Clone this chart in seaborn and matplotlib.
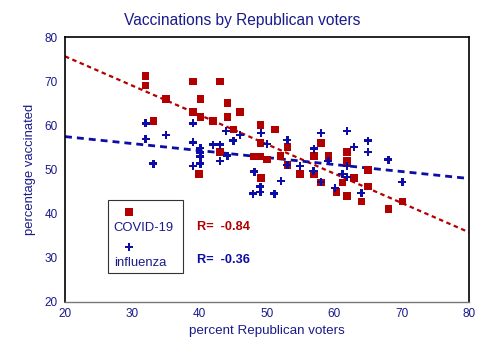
import numpy as np
import pandas as pd
import matplotlib
matplotlib.use('Agg')
import matplotlib.pyplot as plt
import seaborn as sns
from matplotlib.patches import Rectangle

sns.set_style('white')
plt.rcParams['font.family'] = ['Liberation Sans', 'DejaVu Sans']

NAVY = '#1a1a8a'
RED = '#b20000'
BLUE = '#0c0ca6'

# podaci ocitani sa slike
covid_gop = [32.0, 32.0, 39.0, 43.0, 35.0, 40.1, 44.1, 39.0, 40.1, 44.1, 46.0,
             33.1, 42.0, 45.0, 49.0, 51.2, 49.0, 43.0, 48.0, 49.0, 50.0, 52.0,
             53.0, 58.0, 57.0, 59.1, 61.9, 61.9, 49.1, 53.0, 54.9, 57.0, 58.0,
             61.2, 62.9, 65.0, 65.0, 60.3, 61.9, 64.0, 68.0, 70.1, 39.9]
covid_vax = [71.2, 69.1, 70.0, 70.0, 66.0, 66.0, 65.1, 63.0, 61.9, 61.9, 63.0,
             61.0, 61.0, 59.0, 60.1, 59.0, 56.0, 54.0, 52.9, 52.9, 52.2, 53.1,
             55.1, 56.0, 53.1, 53.1, 54.0, 51.9, 48.1, 51.0, 49.0, 49.0, 47.0,
             47.0, 48.1, 49.9, 46.1, 44.9, 44.0, 42.7, 41.1, 42.7, 49.0]

flu_gop = [32.0, 32.0, 35.0, 39.0, 39.0, 40.1, 40.1, 40.1, 42.0, 43.0, 43.0,
           43.9, 45.0, 46.0, 49.1, 50.0, 44.1, 33.1, 39.0, 40.1, 48.1, 49.0,
           49.0, 47.9, 53.0, 58.0, 61.9, 57.0, 59.1, 62.9, 65.0, 65.0, 52.1,
           53.0, 54.9, 56.9, 61.9, 61.2, 61.9, 58.0, 60.1, 64.0, 70.1, 68.0, 51.1]
flu_vax = [60.5, 56.9, 57.8, 60.5, 56.2, 54.9, 53.8, 52.9, 55.6, 55.6, 51.9,
           58.7, 56.5, 57.8, 58.3, 55.8, 53.1, 51.3, 50.8, 51.3, 49.5, 46.1,
           44.9, 44.5, 56.7, 58.3, 58.7, 54.7, 51.9, 55.1, 56.5, 54.0, 47.4,
           51.0, 50.8, 49.7, 50.8, 49.0, 48.3, 47.2, 45.8, 44.7, 47.2, 52.2, 44.5]

r_labels = ['R=  -0.84', 'R=  -0.36']

covid_df = pd.DataFrame({'gop': covid_gop, 'vax': covid_vax})
flu_df = pd.DataFrame({'gop': flu_gop, 'vax': flu_vax})

fig = plt.figure(figsize=(5, 3.53), dpi=100)
ax = fig.add_axes([0.13, 0.1445, 0.808, 0.7505])
ax.set_xlim(20, 80)
ax.set_ylim(20, 80)

sns.regplot(data=covid_df, x='gop', y='vax', ax=ax, scatter=False, ci=None,
            truncate=False, color=RED,
            line_kws={'linestyle': (0, (2.0, 1.6)), 'linewidth': 1.6})
sns.regplot(data=flu_df, x='gop', y='vax', ax=ax, scatter=False, ci=None,
            truncate=False, color=BLUE,
            line_kws={'linestyle': (0, (2.5, 1.8)), 'linewidth': 2.0})

sns.scatterplot(data=covid_df, x='gop', y='vax', ax=ax, marker='s', s=28,
                color=RED, edgecolor='none', zorder=3)
sns.scatterplot(data=flu_df, x='gop', y='vax', ax=ax, marker='P', s=34,
                color=BLUE, edgecolor='none', zorder=4)

ax.set_xlim(20, 80)
ax.set_ylim(20, 80)
ax.set_xticks(range(20, 81, 10))
ax.set_yticks(range(20, 81, 10))

ax.set_xlabel('percent Republican voters', color=NAVY, fontsize=9.6, labelpad=4)
ax.set_ylabel('percentage vaccinated', color=NAVY, fontsize=9.4, labelpad=6)
fig.text(0.484, 0.943, 'Vaccinations by Republican voters', color=NAVY,
         fontsize=11.2, ha='center', va='center')

for side in ['left', 'top', 'right']:
    ax.spines[side].set_color('black')
    ax.spines[side].set_linewidth(1.2)
ax.spines['bottom'].set_color('#777777')
ax.spines['bottom'].set_linewidth(1.0)
ax.tick_params(axis='y', direction='out', length=4, width=0.8, color='black',
               labelcolor=NAVY, labelsize=8.5, pad=1)
ax.tick_params(axis='x', direction='out', length=4, width=0.8, color='#777777',
               labelcolor=NAVY, labelsize=8.5, pad=0)

# legenda: marker iznad teksta
ax.add_patch(Rectangle((0.106, 0.109), 0.186, 0.276, transform=ax.transAxes,
                       facecolor='white', edgecolor='#333333', linewidth=0.8,
                       zorder=5))
ax.scatter([0.158], [0.34], marker='s', s=28, color=RED, transform=ax.transAxes,
           zorder=6, edgecolor='none')
ax.text(0.119, 0.279, 'COVID-19', transform=ax.transAxes, color=NAVY,
        fontsize=9.4, va='center', zorder=6)
ax.scatter([0.158], [0.208], marker='P', s=30, color=BLUE, transform=ax.transAxes,
           zorder=6, edgecolor='none')
ax.text(0.122, 0.147, 'influenza', transform=ax.transAxes, color=NAVY,
        fontsize=9.4, va='center', zorder=6)

ax.text(0.327, 0.283, r_labels[0], transform=ax.transAxes, color=RED,
        fontsize=9.2, fontweight='bold', va='center')
ax.text(0.327, 0.158, r_labels[1], transform=ax.transAxes, color=BLUE,
        fontsize=9.2, fontweight='bold', va='center')

fig.savefig('out.png', dpi=100, facecolor='white')
